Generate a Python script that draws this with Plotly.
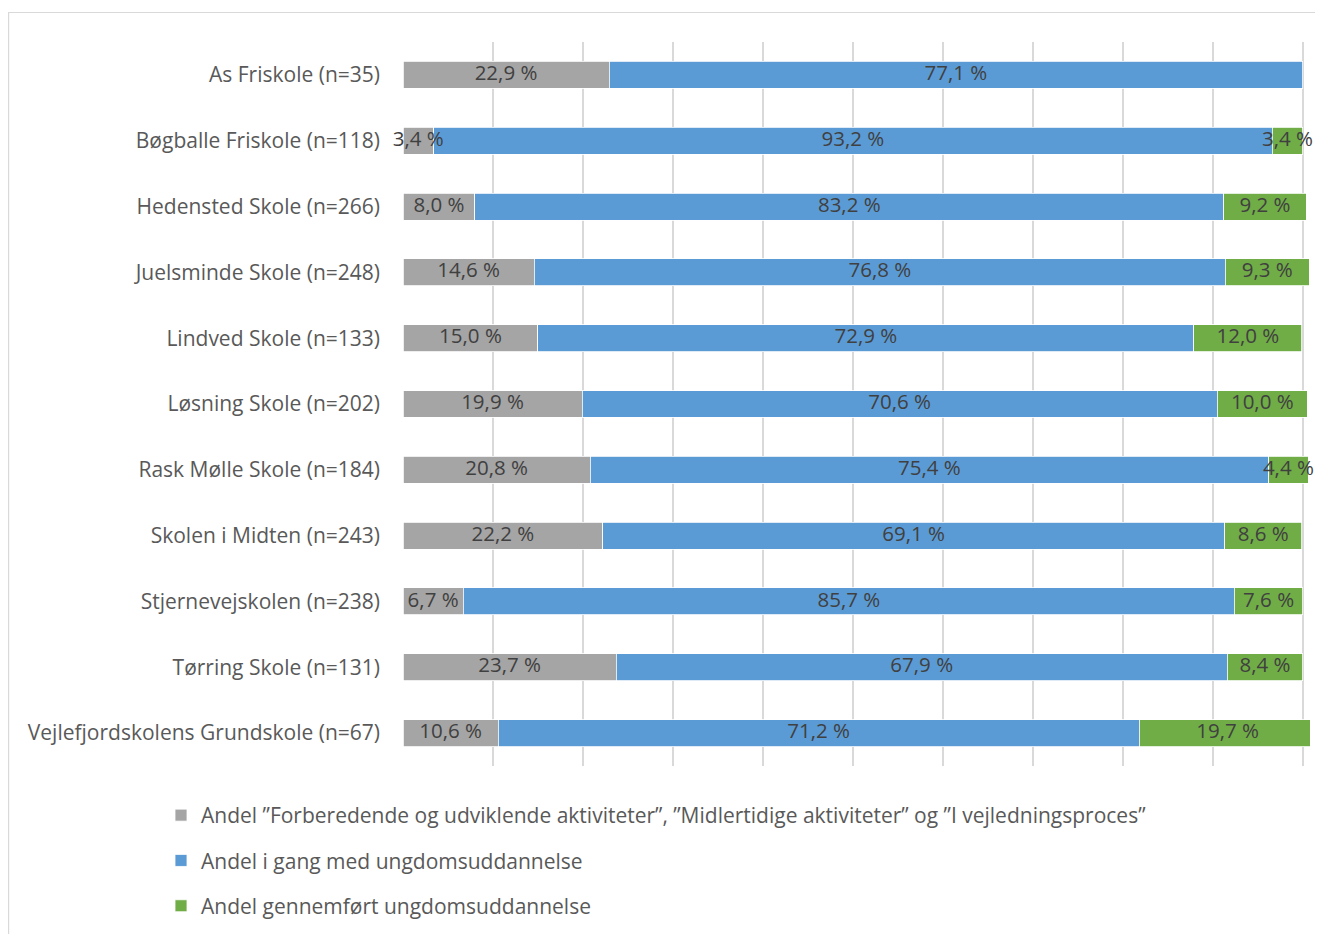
import plotly.graph_objects as go

schools = [
    "As Friskole (n=35)",
    "Bøgballe Friskole (n=118)",
    "Hedensted Skole (n=266)",
    "Juelsminde Skole (n=248)",
    "Lindved Skole (n=133)",
    "Løsning Skole (n=202)",
    "Rask Mølle Skole (n=184)",
    "Skolen i Midten (n=243)",
    "Stjernevejskolen (n=238)",
    "Tørring Skole (n=131)",
    "Vejlefjordskolens Grundskole (n=67)",
]
forberedende = [22.9, 3.4, 8.0, 14.6, 15.0, 19.9, 20.8, 22.2, 6.7, 23.7, 10.6]
i_gang = [77.1, 93.2, 83.2, 76.8, 72.9, 70.6, 75.4, 69.1, 85.7, 67.9, 71.2]
gennemfort = [None, 3.4, 9.2, 9.3, 12.0, 10.0, 4.4, 8.6, 7.6, 8.4, 19.7]

series_names = [
    "Andel \u201dForberedende og udviklende aktiviteter\u201d, \u201dMidlertidige aktiviteter\u201d og \u201dI vejledningsproces\u201d",
    "Andel i gang med ungdomsuddannelse",
    "Andel gennemført ungdomsuddannelse",
]
series_values = [forberedende, i_gang, gennemfort]
series_colors = ["#A5A5A5", "#5B9BD5", "#70AD47"]

FONT = "Open Sans"
X_MAX = 100.8

# figure sits 8px in from the page corner (body margin)
W, H = 1315, 926
L, T, B = 395, 34, 168
PLOT_W = 900 * X_MAX / 100
R = W - L - PLOT_W
PLOT_H = H - T - B

fig = go.Figure()
for i, (name, vals, col) in enumerate(zip(series_names, series_values, series_colors)):
    fig.add_trace(go.Bar(
        y=schools, x=vals, name=name, orientation="h",
        marker=dict(color=col, line=dict(color="white", width=0.8)),
        textposition="none",
        legendgroup=f"g{i}",
        hoverinfo="skip",
    ))

# data labels on top of all bars, centred in each segment
lab_x, lab_y, lab_t = [], [], []
for j, school in enumerate(schools):
    start = 0.0
    for vals in series_values:
        v = vals[j]
        if v is None:
            continue
        lab_x.append(start + v / 2)
        lab_y.append(school)
        lab_t.append(f"{v:.1f}".replace(".", ",") + " %")
        start += v
fig.add_trace(go.Scatter(
    x=lab_x, y=lab_y, text=lab_t, mode="text", textposition="middle center",
    textfont=dict(family=FONT, size=20.5, color="#404040"),
    showlegend=False, hoverinfo="skip", cliponaxis=False,
))

def px2x(px):
    return (px - L) / PLOT_W

def py2y(py):
    return (H - B - py) / PLOT_H

fig.add_shape(type="rect", xref="paper", yref="paper",
              x0=px2x(0.5), x1=px2x(1340), y0=py2y(950), y1=py2y(4.5),
              line=dict(color="#D9D9D9", width=1.2), fillcolor="rgba(0,0,0,0)", layer="below")

n = len(schools)
fig.update_layout(
    width=W, height=H,
    margin=dict(l=L, r=R, t=T, b=B, autoexpand=False, pad=0),
    barmode="stack", bargap=0.59,
    plot_bgcolor="white", paper_bgcolor="white",
    font=dict(family=FONT, size=21, color="#595959"),
    xaxis=dict(range=[0, X_MAX], showticklabels=False, showgrid=True, gridcolor="#D9D9D9",
               gridwidth=1.5, tick0=0, dtick=10, zeroline=False, showline=False, fixedrange=True),
    yaxis=dict(range=[n - 0.5, -0.5], autorange=False, showgrid=False, showline=False, ticks="",
               ticklabelstandoff=22, tickfont=dict(family=FONT, size=21, color="#595959")),
    showlegend=True,
    legend=dict(orientation="v", xref="container", yref="container",
                x=153 / W, y=1 - 787 / H, xanchor="left", yanchor="top",
                traceorder="grouped", tracegroupgap=15,
                font=dict(family=FONT, size=21, color="#595959"),
                bgcolor="rgba(0,0,0,0)"),
)

fig.write_html("out.html")
